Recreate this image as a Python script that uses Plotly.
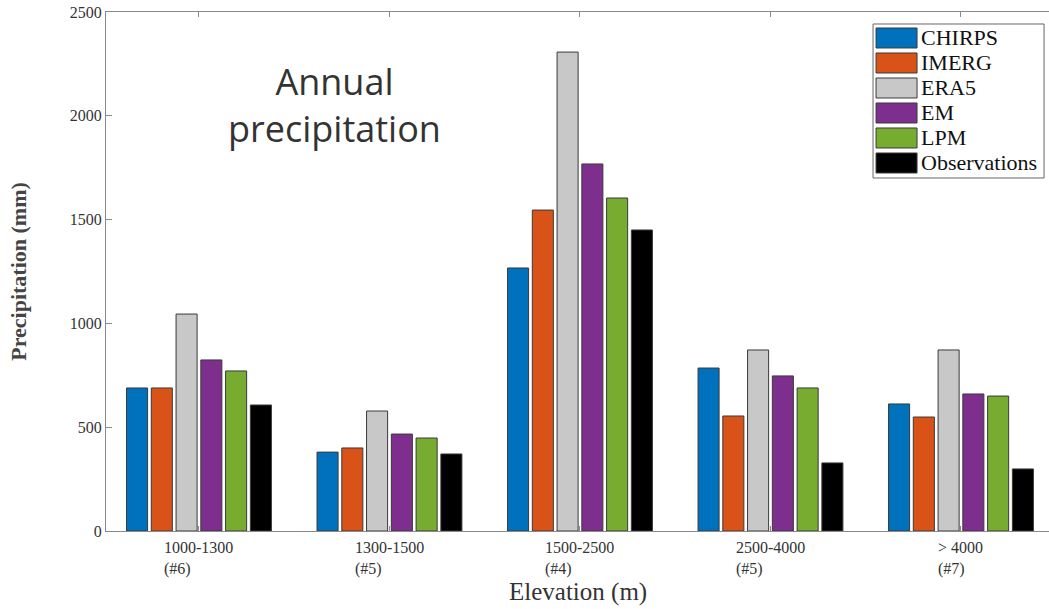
import plotly.graph_objects as go

# elevation bands and number of stations in each
elevation = ["1000-1300", "1300-1500", "1500-2500", "2500-4000", "> 4000"]
n_stations = ["#6", "#5", "#4", "#5", "#7"]

chirps = [689, 380, 1267, 785, 612]
imerg = [689, 400, 1546, 554, 549]
era5 = [1045, 578, 2307, 872, 872]
em = [824, 467, 1768, 747, 660]
lpm = [771, 448, 1604, 689, 650]
obs = [607, 371, 1450, 328, 299]

series = [
    ("CHIRPS", chirps, "#0072BD"),
    ("IMERG", imerg, "#D95319"),
    ("ERA5", era5, "#C8C8C8"),
    ("EM", em, "#7E2F8E"),
    ("LPM", lpm, "#77AC30"),
    ("Observations", obs, "#000000"),
]

SERIF = "Liberation Serif, Times New Roman, serif"
AXIS = "#8a8a8a"
OUTLINE = "#3a3a3a"

fig = go.Figure()
for name, vals, col in series:
    fig.add_trace(go.Bar(x=elevation, y=vals, name=name, marker_color=col,
                         marker_line=dict(color=OUTLINE, width=1), showlegend=False))

# category labels: range on top, station count left-aligned below
for cat, n in zip(elevation, n_stations):
    fig.add_annotation(x=cat, y=0, xref="x", yref="paper", yanchor="top", yshift=-6,
                       text=f"{cat}<br>({n})", align="left", showarrow=False,
                       font=dict(family=SERIF, size=16, color="#333"))

fig.add_annotation(x=0.5, y=-0.118, xref="paper", yref="paper", yanchor="middle",
                   text="Elevation (m)", showarrow=False,
                   font=dict(family=SERIF, size=25, color="#333"))
fig.add_annotation(x=0.242, y=0.82, xref="paper", yref="paper",
                   xanchor="center", yanchor="middle",
                   text="Annual<br>precipitation", showarrow=False,
                   font=dict(family="Open Sans, sans-serif", size=36, color="#333"))

# MATLAB-style legend with wide swatches (plotly's own bar icons are tiny)
W, H = 943, 519            # plot area in px
px = lambda v: v / W
py = lambda v: v / H
x0, top = 0.8134, 0.9769   # legend box, upper-left corner
fig.add_shape(type="rect", xref="paper", yref="paper", x0=x0, x1=x0 + px(171),
              y0=top - py(154), y1=top, line=dict(color="#666", width=1),
              fillcolor="white", layer="above")
for i, (name, _, col) in enumerate(series):
    yc = top - py(14 + 25 * i)
    fig.add_shape(type="rect", xref="paper", yref="paper", x0=x0 + px(3), x1=x0 + px(44),
                  y0=yc - py(10), y1=yc + py(10), fillcolor=col,
                  line=dict(color=OUTLINE, width=1), layer="above")
    fig.add_annotation(x=x0 + px(46), y=yc, xref="paper", yref="paper",
                       xanchor="left", yanchor="middle", text=name, showarrow=False,
                       font=dict(family=SERIF, size=22, color="#111"))

fig.update_layout(
    barmode="group", bargap=0.22, bargroupgap=0.15,
    width=1049, height=609, margin=dict(l=106, r=0, t=12, b=78),
    paper_bgcolor="white", plot_bgcolor="white",
)
fig.update_xaxes(range=[-0.488, 4.462], showticklabels=False, showline=True,
                 linecolor=AXIS, linewidth=1, mirror="ticks", automargin=False,
                 ticks="inside", ticklen=5, tickcolor=AXIS, showgrid=False)
fig.update_yaxes(range=[0, 2500], dtick=500, showline=True, linecolor=AXIS, linewidth=1,
                 ticks="inside", ticklen=6, tickcolor=AXIS, showgrid=False, zeroline=False,
                 automargin=False,
                 tickfont=dict(family=SERIF, size=16, color="#333"),
                 title=dict(text="<b>Precipitation (mm)</b>", standoff=37,
                            font=dict(family=SERIF, size=22, color="#444")))

fig.write_html("out.html", config={"displayModeBar": False},
               post_script="document.body.style.margin='0';")
